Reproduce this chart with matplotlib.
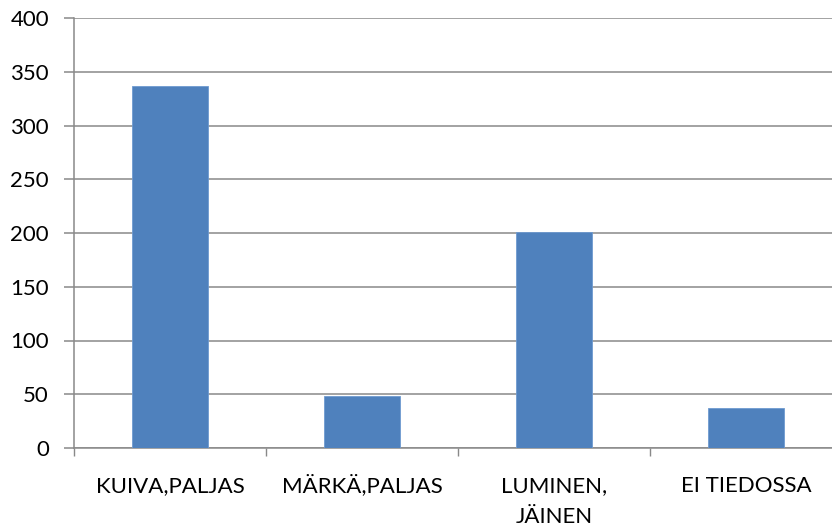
import matplotlib
matplotlib.use("Agg")
import matplotlib.pyplot as plt

categories = ["KUIVA,PALJAS", "MÄRKÄ,PALJAS", "LUMINEN,\nJÄINEN", "EI TIEDOSSA"]
values = [337, 48, 201, 37]
y_ticks = [0, 50, 100, 150, 200, 250, 300, 350, 400]

plt.rcParams["font.family"] = ["Lato", "DejaVu Sans"]

W, H = 832, 526
fig = plt.figure(figsize=(W / 100, H / 100), dpi=100)
left, right, top, bottom = 74, 842, 18, 448
ax = fig.add_axes([left / W, 1 - bottom / H, (right - left) / W, (bottom - top) / H])

grey = "#898989"
fs = 16
x = list(range(len(categories)))
ax.bar(x, values, width=0.40, color="#4F81BD", edgecolor="#6E9AD0", linewidth=0.6, zorder=3)

ax.set_xlim(-0.5, len(categories) - 0.5)
ax.set_ylim(0, 400)
ax.set_yticks(y_ticks)
ax.set_yticklabels([str(v) for v in y_ticks])
ax.yaxis.grid(True, color=grey, linewidth=1.1, zorder=0)
ax.set_axisbelow(True)

# category boundaries carry the tick marks; names are centred under each bar
ax.set_xticks([i - 0.5 for i in range(len(categories) + 1)])
ax.set_xticklabels([""] * (len(categories) + 1))
ax.tick_params(axis="x", length=6, width=1.0, color=grey, direction="out")
ax.tick_params(axis="y", length=7, width=1.1, color=grey, pad=11, labelsize=fs, labelcolor="#000000")

first_baseline_pt = 31.7
line_pt = 22.3
for i, name in enumerate(categories):
    for k, line in enumerate(name.split("\n")):
        ax.annotate(line, xy=(i, 0), xycoords=("data", "axes fraction"),
                    xytext=(0, -first_baseline_pt - k * line_pt), textcoords="offset points",
                    ha="center", va="baseline", fontsize=fs,
                    color="#000000", annotation_clip=False)

for s in ["top", "right"]:
    ax.spines[s].set_visible(False)
for s in ["left", "bottom"]:
    ax.spines[s].set_color(grey)
    ax.spines[s].set_linewidth(1.1)

fig.savefig("out.png", dpi=100, facecolor="white")
